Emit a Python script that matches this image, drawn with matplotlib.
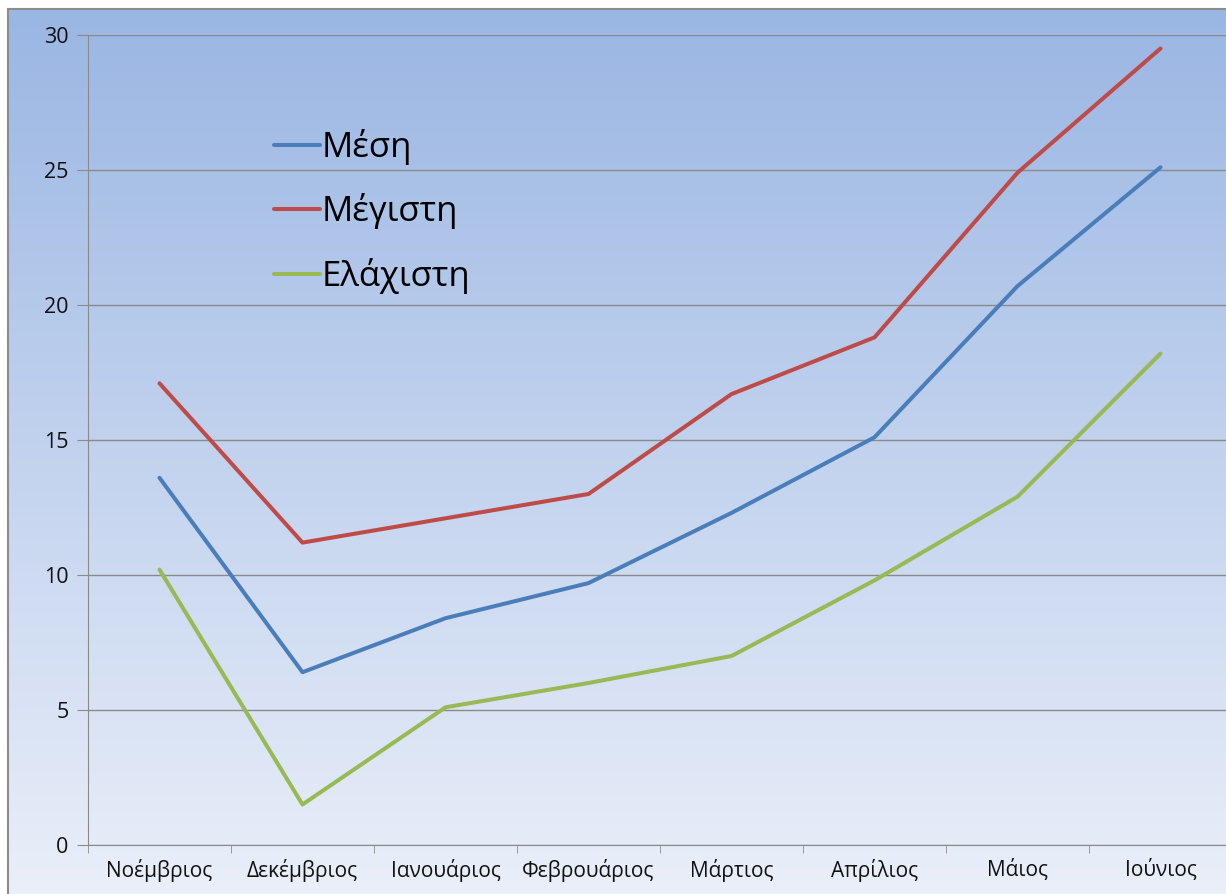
import numpy as np
import matplotlib.pyplot as plt

months = ['Νοέμβριος', 'Δεκέμβριος', 'Ιανουάριος', 'Φεβρουάριος',
          'Μάρτιος', 'Απρίλιος', 'Μάιος', 'Ιούνιος']
mesi = [13.6, 6.4, 8.4, 9.7, 12.3, 15.1, 20.7, 25.1]
megisti = [17.1, 11.2, 12.1, 13.0, 16.7, 18.8, 24.9, 29.5]
elaxisti = [10.2, 1.5, 5.1, 6.0, 7.0, 9.8, 12.9, 18.2]

plt.rcParams['font.family'] = ['Open Sans', 'DejaVu Sans']

W, H = 1226, 894
fig = plt.figure(figsize=(W / 100, H / 100), dpi=100)

# gradient background with thin grey frame on left/top
bg = fig.add_axes([8 / W, 0, 1 - 8 / W, (H - 9) / H])
grad = np.linspace(0, 1, 256).reshape(-1, 1)
top = np.array([154, 182, 227]) / 255
bot = np.array([234, 239, 249]) / 255
img = top + (bot - top) * grad[:, :, None]
bg.imshow(img, aspect='auto', extent=[0, 1, 0, 1])
bg.set_xticks([])
bg.set_yticks([])
for s in ['right', 'bottom']:
    bg.spines[s].set_visible(False)
for s in ['left', 'top']:
    bg.spines[s].set_color('#8c8c8c')
    bg.spines[s].set_linewidth(1.5)

ax = fig.add_axes([88 / W, (H - 845) / H, (1232 - 88) / W, (845 - 35) / H])
ax.patch.set_alpha(0)
x = np.arange(len(months))
ax.plot(x, mesi, color='#4a7ebb', lw=2.9, label='Μέση', solid_capstyle='round')
ax.plot(x, megisti, color='#be4b48', lw=2.9, label='Μέγιστη', solid_capstyle='round')
ax.plot(x, elaxisti, color='#98b954', lw=2.9, label='Ελάχιστη', solid_capstyle='round')

ax.set_xlim(-0.5, 7.5)
ax.set_ylim(0, 30)
ax.set_yticks(range(0, 31, 5))
ax.yaxis.grid(True, color='#8a8a8a', lw=1)
ax.set_axisbelow(True)
ax.set_xticks(x)
ax.set_xticklabels(months)
ax.set_xticks(np.arange(-0.5, 8, 1), minor=True)
ax.tick_params(axis='x', which='major', length=0, labelsize=15, pad=10, colors='#111111')
ax.tick_params(axis='x', which='minor', length=6, color='#8a8a8a', direction='out')
ax.tick_params(axis='y', length=8, color='#8a8a8a', labelsize=15.5, pad=6, colors='#111111')
for s in ['top', 'right']:
    ax.spines[s].set_visible(False)
for s in ['left', 'bottom']:
    ax.spines[s].set_color('#8a8a8a')

leg = ax.legend(loc='upper left', bbox_to_anchor=(0.163, 0.884), frameon=False,
                fontsize=25, handlelength=1.3, handletextpad=0.05, labelspacing=0.82,
                borderpad=0, borderaxespad=0)

fig.savefig('out.png', dpi=100)
